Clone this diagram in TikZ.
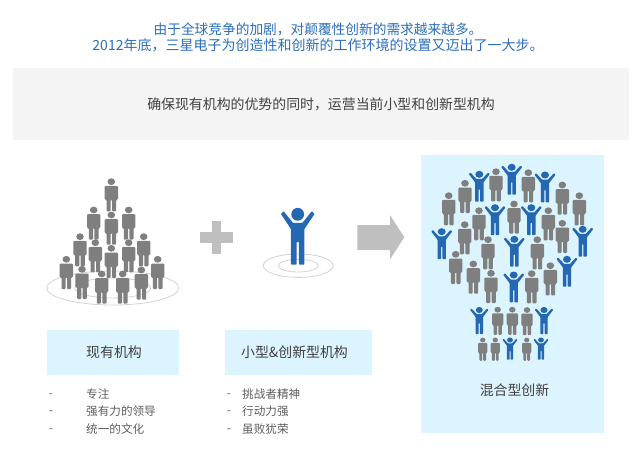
\documentclass[tikz,border=0pt]{standalone}
\usepackage{fontspec}
\setmainfont{Noto Sans CJK SC}
\usepackage{tikz}
\usetikzlibrary{positioning}
\definecolor{manblue}{HTML}{2468B4}
\definecolor{mangray}{HTML}{7F7F7F}
\definecolor{titleblue}{HTML}{2A6EBB}
\definecolor{panelblue}{HTML}{DCF4FE}
\definecolor{panelgray}{HTML}{F4F4F4}
\definecolor{signgray}{HTML}{BFBFBF}
\definecolor{ringgray}{HTML}{D2D2D2}
\definecolor{textgray}{HTML}{404040}
\tikzset{
    grayman/.pic={
        \fill[mangray] (0,0) ellipse [x radius=3.8, y radius=3.4];
        \fill[mangray, rounded corners=1pt] (-6.7,4.2) -- (6.7,4.2) -- (6.7,18) -- (4.8,18) -- (4.8,29.7) -- (0.7,29.7) -- (0.7,18) -- (-0.7,18) -- (-0.7,29.7) -- (-4.8,29.7) -- (-4.8,18) -- (-6.7,18) -- cycle;
    },
    blueman/.pic={
        \fill[manblue] (0,0) ellipse [x radius=4, y radius=3.5];
        \fill[manblue, rounded corners=0.6pt] (-10.5,-0.2) -- (-8.8,-1.7) -- (-3,4.6) -- (3,4.6) -- (8.8,-1.7) -- (10.5,-0.2) -- (4.2,8) -- (4.2,27.3) -- (0.7,27.3) -- (0.7,15) -- (-0.7,15) -- (-0.7,27.3) -- (-4.2,27.3) -- (-4.2,8) -- cycle;
    },
    ring/.style={draw=ringgray, line width=0.8pt},
    titletext/.style={text=titleblue, font=\fontsize{13.7}{16}\selectfont},
    headtext/.style={text=textgray, font=\fontsize{13.9}{16}\selectfont},
    listtext/.style={text=textgray!85, anchor=west, inner sep=0pt, font=\fontsize{11.6}{14}\selectfont},
    labelbox/.style={fill=panelblue, minimum height=45pt, inner sep=0pt}
}
\begin{document}
\begin{tikzpicture}[x=1pt,y=-1pt]
        \useasboundingbox (0,0) rectangle (640,455);
        % heading
        \node[titletext] (line1) at (318,29) {由于全球竞争的加剧，对颠覆性创新的需求越来越多。};
        \node[titletext, font=\fontsize{14}{16}\selectfont] (line2) at (318,45) {2012年底，三星电子为创造性和创新的工作环境的设置又迈出了一大步。};
        \node[headtext, fill=panelgray, minimum width=616pt, minimum height=72pt] (band) at (321,104) {确保现有机构的优势的同时，运营当前小型和创新型机构};
        % result panel
        \node[fill=panelblue, minimum width=182.5pt, minimum height=278pt] (panel) at (512.3,294) {};
        \node[headtext] (mixed) at (514.5,390) {混合型创新};
        % rings
        \draw[ring] (112.7,288) ellipse [x radius=66, y radius=17];
        \draw[ring] (112.7,288) ellipse [x radius=38, y radius=10];
        \draw[ring] (298.3,265.7) ellipse [x radius=35, y radius=11.7];
        \draw[ring] (298.3,265.7) ellipse [x radius=20, y radius=6.3];
        % left group
        \foreach \px/\py in {111.3/181.7, 93.7/210, 128.7/210, 111.3/215, 80/236.7, 143.7/236.7, 95.3/242.7, 128.7/242.7, 111.3/248.3, 66.3/259.3, 157.7/259.3, 82/269.3, 141.3/270, 101.7/274, 122.7/274}
            \pic at (\px,\py) {grayman};
        % plus and arrow
        \fill[signgray] (212.4,220.7) rectangle (221,254.3);
        \fill[signgray] (200,232.4) rectangle (233.3,242.6);
        \pic[xscale=1.6, yscale=1.84] at (297.7,214.3) {blueman};
        \fill[signgray] (357.3,225) -- (390,225) -- (390,215) -- (404.3,237.3) -- (390,259.3) -- (390,250) -- (357.3,250) -- cycle;
        % bulb
        \foreach \px/\py in {448.7/195.7, 465/183.3, 496/171.7, 528.3/172.7, 562.3/185, 579.3/195.7, 479/210.7, 514/204, 548.3/210.7, 464.7/224.7, 562.3/223.3, 488/239.7, 537.3/239.7, 455.7/254.3, 473.3/264, 550.3/265.7, 491/273.3, 531.7/273.7}
            \pic at (\px,\py) {grayman};
        \foreach \px/\py in {479.3/174.3, 511.7/167.3, 545/175, 495/207.7, 531.3/207.7, 441.7/231.7, 582.7/229.3, 514.3/239.3, 567/259.3, 513.7/275}
            \pic at (\px,\py) {blueman};
        \foreach \px/\py in {497.7/309.7, 512.3/309.7, 527/310}
            \pic[scale=0.85] at (\px,\py) {grayman};
        \foreach \px/\py in {479.3/310, 544/310}
            \pic[scale=0.88] at (\px,\py) {blueman};
        \foreach \px/\py in {482.7/340, 495.3/340, 526.7/340}
            \pic[scale=0.7] at (\px,\py) {grayman};
        \foreach \px/\py in {510/340, 541/340}
            \pic[scale=0.72] at (\px,\py) {blueman};
        % boxes
        \node[labelbox, minimum width=132.6pt] (existing) at (113,352.5) {};
        \node[headtext] (existingtext) at (114,352.5) {现有机构};
        \node[labelbox, minimum width=146.7pt] (small) at (298.3,352.5) {};
        \node[headtext] (smalltext) at (294.5,352.5) {小型\&创新型机构};
        % lists
        \node[listtext] (exist1) at (86,394) {专注};
        \node[listtext] (exist2) at (86,411) {强有力的领导};
        \node[listtext] (exist3) at (86,429) {统一的文化};
        \node[listtext, left=33pt of exist1.west, yshift=-2pt] (dash1) {-};
        \node[listtext, left=33pt of exist2.west, yshift=-2pt] (dash2) {-};
        \node[listtext, left=33pt of exist3.west, yshift=-2pt] (dash3) {-};
        \node[listtext] (small1) at (242,394) {挑战者精神};
        \node[listtext] (small2) at (242,411) {行动力强};
        \node[listtext] (small3) at (242,429) {虽败犹荣};
        \node[listtext, left=11pt of small1.west, yshift=-2pt] (dash4) {-};
        \node[listtext, left=11pt of small2.west, yshift=-2pt] (dash5) {-};
        \node[listtext, left=11pt of small3.west, yshift=-2pt] (dash6) {-};
\end{tikzpicture}
\end{document}
